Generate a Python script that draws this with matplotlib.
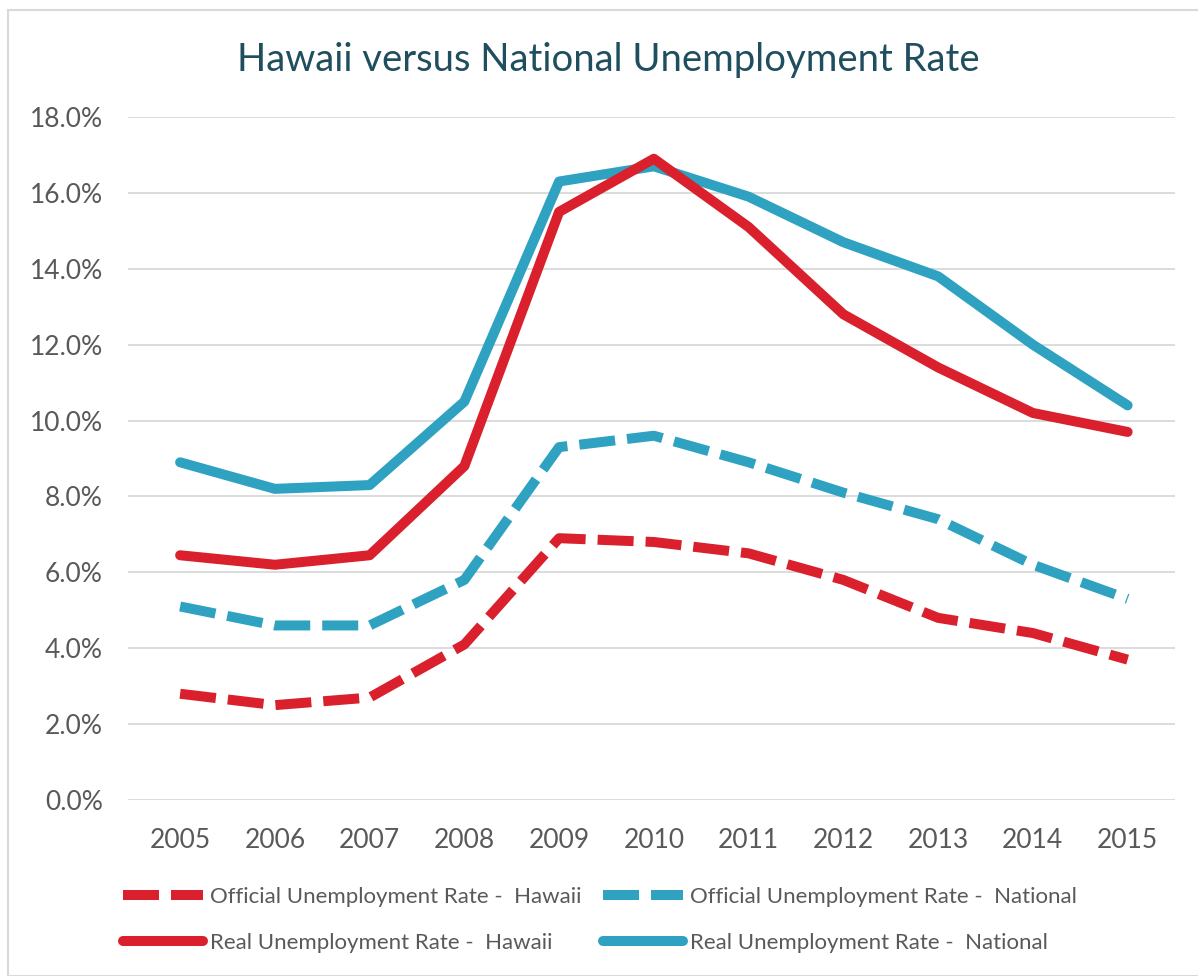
import matplotlib
matplotlib.use("Agg")
import matplotlib.pyplot as plt
from matplotlib.patches import Rectangle
from matplotlib.ticker import FuncFormatter

years = [2005, 2006, 2007, 2008, 2009, 2010, 2011, 2012, 2013, 2014, 2015]
official_hawaii = [2.8, 2.5, 2.7, 4.1, 6.9, 6.8, 6.5, 5.8, 4.8, 4.4, 3.7]
official_national = [5.1, 4.6, 4.6, 5.8, 9.3, 9.6, 8.9, 8.1, 7.4, 6.2, 5.3]
real_hawaii = [6.45, 6.2, 6.45, 8.8, 15.5, 16.9, 15.1, 12.8, 11.4, 10.2, 9.7]
real_national = [8.9, 8.2, 8.3, 10.5, 16.3, 16.7, 15.9, 14.7, 13.8, 12.0, 10.4]

red = '#D9202C'
teal = '#2EA2C0'

plt.rcParams['font.family'] = ['Lato', 'DejaVu Sans']

fig = plt.figure(figsize=(11.98, 9.76), dpi=100)
fig.patches.append(Rectangle((8 / 1198, 0), 1.0, 1 - 10 / 976, transform=fig.transFigure,
                             fill=False, edgecolor='#D9D9D9', linewidth=1.5))
ax = fig.add_axes([128 / 1198, 1 - 800 / 976, (1175 - 128) / 1198, (800 - 117) / 976])

lw = 7.2
l1, = ax.plot(years, official_hawaii, color=red, linewidth=lw, dashes=(3.6, 1.2),
              solid_joinstyle='round', label='Official Unemployment Rate -  Hawaii')
l2, = ax.plot(years, official_national, color=teal, linewidth=lw, dashes=(3.6, 1.2),
              label='Official Unemployment Rate -  National')
l4, = ax.plot(years, real_national, color=teal, linewidth=lw, solid_capstyle='round',
              solid_joinstyle='round', label='Real Unemployment Rate -  National')
l3, = ax.plot(years, real_hawaii, color=red, linewidth=lw, solid_capstyle='round',
              solid_joinstyle='round', label='Real Unemployment Rate -  Hawaii')

ax.set_xlim(2004.45, 2015.5)
ax.set_ylim(0, 18)
ax.set_yticks(range(0, 19, 2))
ax.yaxis.set_major_formatter(FuncFormatter(lambda v, p: '%.1f%%' % v))
ax.set_xticks(years)
ax.grid(axis='y', color='#D9D9D9', linewidth=1.3)
ax.set_axisbelow(True)
for s in ax.spines.values():
    s.set_visible(False)
ax.tick_params(length=0, labelsize=19, colors='#595959')
ax.tick_params(axis='x', pad=20)
ax.tick_params(axis='y', pad=18)

fig.text(0.508, 1 - 60 / 976, 'Hawaii versus National Unemployment Rate', ha='center', va='center',
         fontsize=27.5, color='#1F4E5F')

fig.legend([l1, l3, l2, l4], [l1.get_label(), l3.get_label(), l2.get_label(), l4.get_label()],
           ncol=2, loc='center left', bbox_to_anchor=(103 / 1198, 1 - 920 / 976),
           frameon=False, fontsize=16, handlelength=3.6, handletextpad=0.3,
           columnspacing=1.0, labelspacing=1.15, labelcolor='#595959')

fig.savefig('out.png', dpi=100, facecolor='white')
